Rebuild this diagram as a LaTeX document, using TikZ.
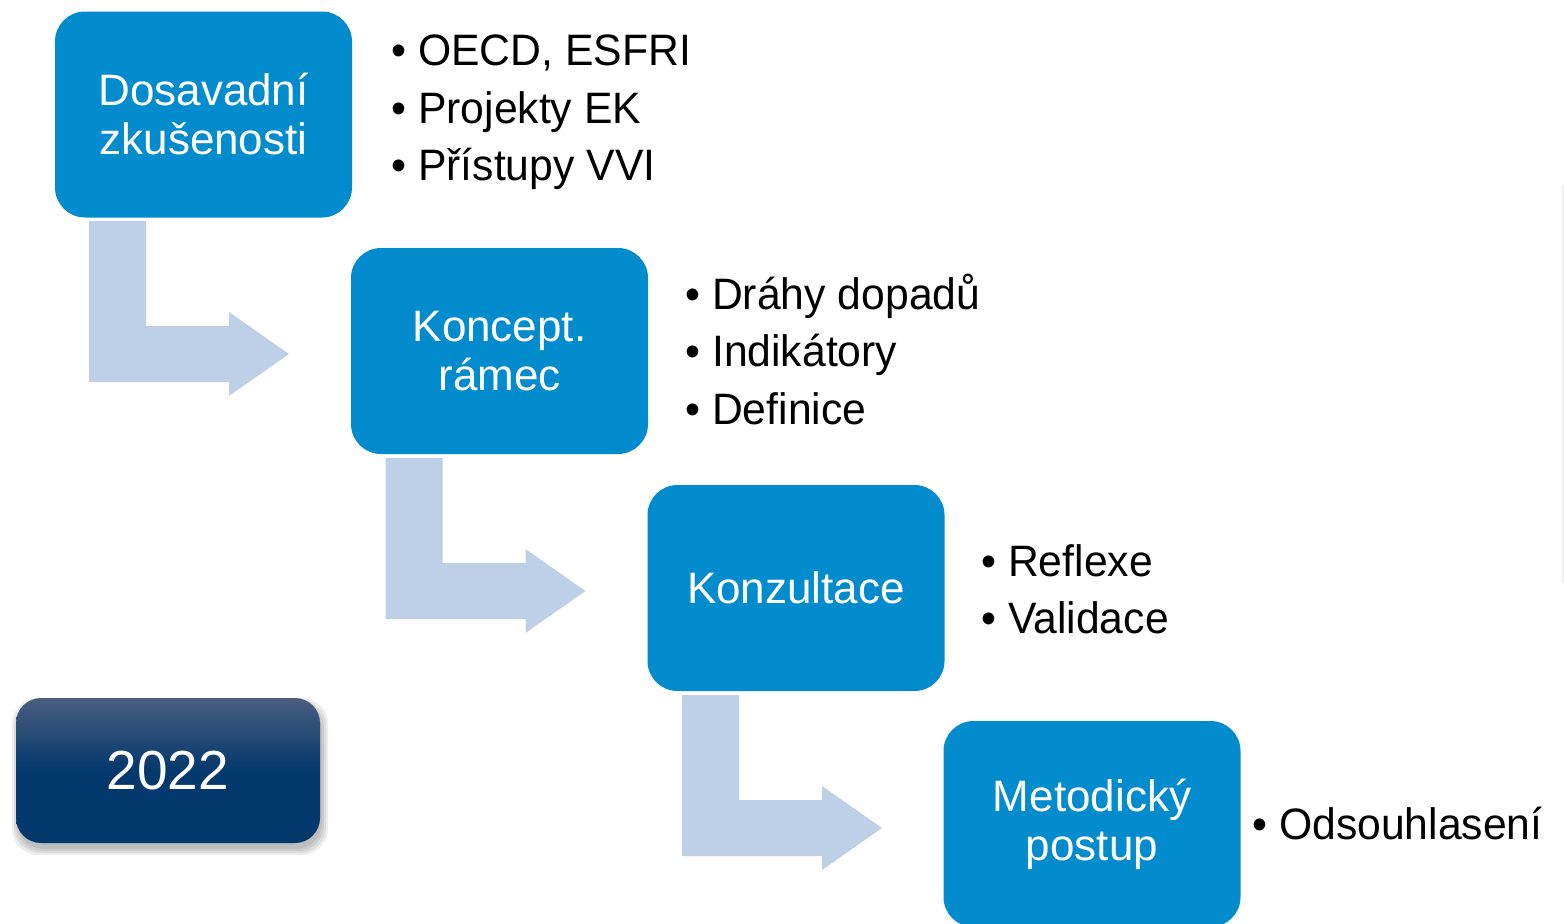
\documentclass[tikz,border=0pt]{standalone}
\usepackage{fontspec}
\setmainfont{Liberation Sans}
\newfontfamily\listfont[FakeStretch=0.97]{Liberation Sans}
\definecolor{boxblue}{RGB}{2,140,205}
\definecolor{arrowblue}{RGB}{189,208,232}
\definecolor{darktop}{RGB}{74,94,128}
\definecolor{darkbot}{RGB}{3,56,108}
\begin{document}
\begin{tikzpicture}[x=0.5pt,y=-0.5pt,
  stepbox/.style={draw=none, fill=boxblue, rounded corners=15pt,
    minimum width=148.5pt, minimum height=103pt, text=white, align=center,
    font=\fontsize{22}{24.5}\selectfont, inner sep=0pt},
  yearbox/.style={draw=none, rounded corners=12.5pt, top color=darktop,
    bottom color=darkbot, middle color=darkbot,
    minimum width=152pt, minimum height=72.5pt, text=white,
    font=\fontsize{27.5}{30}\selectfont, inner sep=0pt},
  softshadow/.style={fill=black, fill opacity=0.07, rounded corners=13pt},
  item/.style={anchor=base west, inner sep=0pt, font=\listfont\fontsize{22}{26}\selectfont},
  bentarrow/.style={fill=arrowblue, draw=none}]
\useasboundingbox (0,0) rectangle (1564,923);
\clip (0,0) rectangle (1564,923);
% faint edge line
\draw[gray!10, line width=0.8pt] (1563,185) -- (1563,583);
% bent arrows
\foreach \dx/\dy in {0/0, 296.5/237, 593/474}{
  \fill[bentarrow, shift={(\dx,\dy)}] (89,221) -- (146,221) -- (146,326) -- (229,326)
    -- (229,312) -- (289,354) -- (229,396) -- (229,382) -- (89,382) -- cycle;
}
% soft shadow of the year box
\foreach \s in {0,2,4,6}{
  \fill[softshadow] (16-\s+2,698+6-\s) rectangle (320+\s+2,843+6+\s);
}
% boxes
\node[stepbox] (b1) at (203.5,114.5) {Dosavadní\\zkušenosti};
\node[stepbox] (b2) at (499.5,351) {Koncept.\\rámec};
\node[stepbox] (b3) at (796,588) {Konzultace};
\node[stepbox] (b4) at (1092,824) {Metodický\\postup};
\node[yearbox] (y) at (168,770.5) {2022};
% bullet lists
\node[item] (l11) at (391,65) {• OECD, ESFRI};
\node[item] (l12) at (391,123) {• Projekty EK};
\node[item] (l13) at (391,180) {• Přístupy VVI};
\node[item] (l21) at (685,309) {• Dráhy dopadů};
\node[item] (l22) at (685,366) {• Indikátory};
\node[item] (l23) at (685,424) {• Definice};
\node[item] (l31) at (981,576) {• Reflexe};
\node[item] (l32) at (981,633) {• Validace};
\node[item] (l41) at (1252,839) {• Odsouhlasení};
\end{tikzpicture}
\end{document}
